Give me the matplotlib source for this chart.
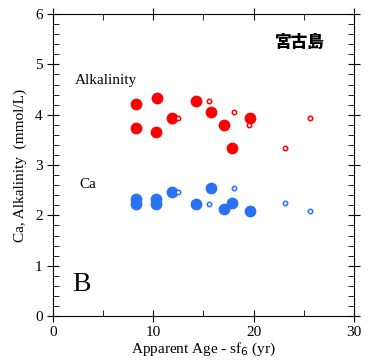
import matplotlib.pyplot as plt
from matplotlib.ticker import MultipleLocator

# Alkalinity - sampled (filled) and other (open) points
alk_age_f = [8.3, 10.4, 8.3, 10.3, 11.9, 14.3, 15.7, 17.0, 17.8, 19.6]
alk_val_f = [4.21, 4.34, 3.73, 3.66, 3.93, 4.28, 4.06, 3.80, 3.33, 3.93]
alk_age_o = [12.5, 15.5, 18.0, 19.5, 23.1, 25.6]
alk_val_o = [3.93, 4.27, 4.06, 3.79, 3.33, 3.93]

# Ca
ca_age_f = [8.3, 8.3, 10.3, 10.3, 11.9, 14.3, 15.7, 17.0, 17.8, 19.6]
ca_val_f = [2.32, 2.23, 2.32, 2.23, 2.47, 2.23, 2.54, 2.13, 2.25, 2.09]
ca_age_o = [12.5, 15.5, 18.0, 23.1, 25.6]
ca_val_o = [2.47, 2.23, 2.54, 2.25, 2.09]

plt.rcParams['font.family'] = ['Liberation Serif', 'DejaVu Serif']

fig = plt.figure(figsize=(3.71, 3.6), dpi=100)
ax = fig.add_axes([0.143, 0.122, 0.811, 0.839])

red = '#ff0000'
blue = '#2a72f5'
ax.scatter(alk_age_f, alk_val_f, s=72, color=red, zorder=3, linewidths=0)
ax.scatter(alk_age_o, alk_val_o, s=10, facecolor='white', edgecolor=red, linewidths=1.1, zorder=3)
ax.scatter(ca_age_f, ca_val_f, s=72, color=blue, zorder=3, linewidths=0)
ax.scatter(ca_age_o, ca_val_o, s=10, facecolor='white', edgecolor=blue, linewidths=1.1, zorder=3)

ax.set_xlim(0, 30)
ax.set_ylim(0, 6)
ax.xaxis.set_major_locator(MultipleLocator(10))
ax.xaxis.set_minor_locator(MultipleLocator(5))
ax.yaxis.set_major_locator(MultipleLocator(1))
ax.yaxis.set_minor_locator(MultipleLocator(0.2))
ax.tick_params(which='both', top=True, right=True, labelsize=11)
ax.tick_params(which='major', direction='inout', length=8)
ax.tick_params(which='minor', direction='in', length=4)

ax.set_xlabel('Apparent Age - sf$_6$ (yr)', fontsize=11, labelpad=1)
ax.set_ylabel('Ca, Alkalinity  (mmol/L)', fontsize=11, labelpad=6)

ax.text(2.2, 4.67, 'Alkalinity', fontsize=11, va='center')
ax.text(2.6, 2.62, 'Ca', fontsize=11, va='center')
ax.text(1.9, 0.62, 'B', fontsize=20, va='center')
ax.text(24.6, 5.45, '宮古島', fontsize=12, fontweight='heavy', ha='center', va='center',
        family=['Noto Sans CJK JP', 'DejaVu Sans'])

plt.savefig('out.png', dpi=100)
